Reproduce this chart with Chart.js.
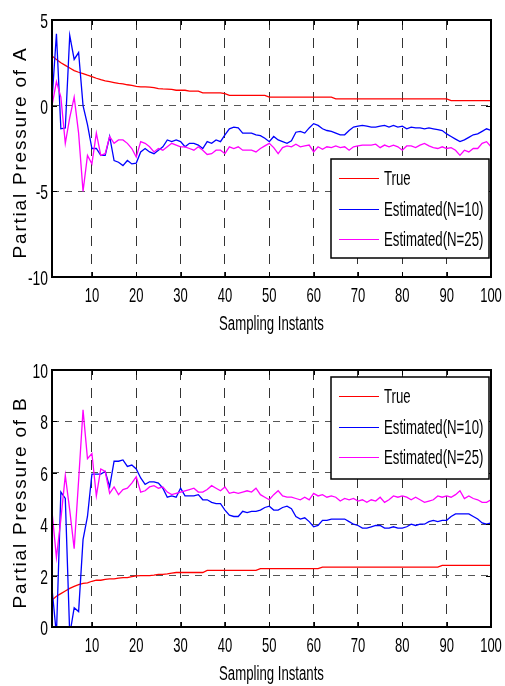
<!DOCTYPE html>
<html><head><meta charset="utf-8">
<script src="https://cdn.jsdelivr.net/npm/chart.js@4.4.0/dist/chart.umd.min.js"></script>
<style>
html,body{margin:0;padding:0;background:#fff;}
#wrap{position:relative;width:505px;height:686px;overflow:hidden;background:#fff;}
canvas{position:absolute;left:0;}
</style></head><body>
<div id="wrap">
<canvas id="cA" width="505" height="343" style="top:0"></canvas>
<canvas id="cB" width="505" height="343" style="top:343px"></canvas>
</div>
<script>
// ---------- data ----------
const samples = [1,2,3,4,5,6,7,8,9,10,11,12,13,14,15,16,17,18,19,20,21,22,23,24,25,26,27,28,29,30,31,32,33,34,35,36,37,38,39,40,41,42,43,44,45,46,47,48,49,50,51,52,53,54,55,56,57,58,59,60,61,62,63,64,65,66,67,68,69,70,71,72,73,74,75,76,77,78,79,80,81,82,83,84,85,86,87,88,89,90,91,92,93,94,95,96,97,98,99,100];
const xTicks = [10,20,30,40,50,60,70,80,90,100];
const yTicksA = [-10,-5,0,5];
const yTicksB = [0,2,4,6,8,10];
const seriesNames = ['True','Estimated(N=10)','Estimated(N=25)'];
const xTitle = 'Sampling Instants';
const yTitleA = 'Partial Pressure of A';
const yTitleB = 'Partial Pressure of B';

const trueA = [2.9,2.7,2.5,2.35,2.2,2.05,1.95,1.87,1.78,1.7,1.6,1.52,1.45,1.4,1.35,1.3,1.27,1.22,1.18,1.12,1.1,1.1,1.08,1.05,1.0,0.98,0.97,0.95,0.9,0.9,0.9,0.85,0.85,0.85,0.75,0.75,0.75,0.75,0.75,0.7,0.6,0.6,0.6,0.6,0.6,0.6,0.6,0.6,0.6,0.5,0.5,0.5,0.5,0.5,0.5,0.5,0.5,0.5,0.5,0.5,0.5,0.5,0.5,0.5,0.4,0.4,0.4,0.4,0.4,0.4,0.4,0.4,0.4,0.4,0.4,0.4,0.4,0.4,0.4,0.4,0.4,0.4,0.4,0.4,0.4,0.4,0.4,0.4,0.4,0.4,0.3,0.3,0.3,0.3,0.3,0.3,0.3,0.3,0.3,0.3];
const estA10 = [0.3,4.2,-1.35,-1.3,4.1,2.7,3.1,0.0,-1.1,-2.5,-2.5,-2.9,-2.9,-1.8,-3.2,-3.3,-3.5,-3.2,-3.4,-3.35,-2.7,-2.5,-2.7,-2.8,-2.6,-2.4,-2.0,-2.1,-2.0,-2.1,-2.4,-2.2,-2.2,-2.3,-2.5,-2.1,-2.2,-2.0,-2.1,-1.7,-1.35,-1.25,-1.3,-1.6,-1.6,-1.6,-1.7,-1.75,-1.9,-2.1,-1.8,-2.0,-2.1,-2.2,-2.05,-1.55,-1.5,-1.6,-1.3,-1.05,-1.15,-1.35,-1.45,-1.5,-1.6,-1.7,-1.7,-1.45,-1.25,-1.2,-1.15,-1.2,-1.25,-1.25,-1.2,-1.15,-1.25,-1.15,-1.25,-1.2,-1.35,-1.25,-1.3,-1.3,-1.35,-1.3,-1.35,-1.4,-1.45,-1.65,-1.8,-1.95,-2.1,-2.0,-1.85,-1.7,-1.65,-1.5,-1.35,-1.45];
const estA25 = [0.0,1.4,0.5,-2.2,-0.7,0.5,-1.6,-5.0,-2.9,-3.4,-1.6,-2.9,-2.8,-1.8,-2.2,-2.0,-2.0,-2.2,-2.5,-3.0,-2.1,-2.2,-2.4,-2.7,-2.5,-2.6,-2.4,-2.2,-2.3,-2.4,-2.4,-2.5,-2.6,-2.4,-2.6,-2.85,-2.8,-2.6,-2.6,-2.8,-2.4,-2.5,-2.4,-2.6,-2.6,-2.6,-2.7,-2.5,-2.35,-2.2,-2.45,-2.8,-2.45,-2.35,-2.4,-2.25,-2.4,-2.35,-2.3,-2.7,-2.4,-2.55,-2.4,-2.45,-2.35,-2.45,-2.4,-2.6,-2.4,-2.35,-2.3,-2.3,-2.3,-2.25,-2.45,-2.3,-2.4,-2.3,-2.4,-2.6,-2.35,-2.35,-2.45,-2.3,-2.2,-2.35,-2.45,-2.5,-2.4,-2.5,-2.45,-2.6,-2.9,-2.6,-2.7,-2.5,-2.5,-2.2,-2.1,-2.4];

const trueB = [1.05,1.2,1.3,1.4,1.5,1.58,1.65,1.7,1.72,1.78,1.82,1.82,1.85,1.87,1.87,1.9,1.92,1.92,1.96,1.99,2.0,2.0,2.0,2.02,2.05,2.05,2.07,2.1,2.12,2.12,2.12,2.12,2.12,2.12,2.12,2.2,2.2,2.2,2.2,2.2,2.2,2.2,2.2,2.2,2.2,2.2,2.2,2.27,2.27,2.27,2.27,2.27,2.27,2.27,2.27,2.27,2.27,2.27,2.27,2.27,2.27,2.33,2.33,2.33,2.33,2.33,2.33,2.33,2.33,2.33,2.33,2.33,2.33,2.33,2.33,2.33,2.33,2.33,2.33,2.33,2.33,2.33,2.33,2.33,2.33,2.33,2.33,2.33,2.4,2.4,2.4,2.4,2.4,2.4,2.4,2.4,2.4,2.4,2.4,2.4];
const estB10 = [1.5,-0.3,5.25,5.0,-0.3,0.75,0.6,3.4,4.3,5.95,5.95,5.95,6.05,5.45,6.45,6.45,6.5,6.25,6.3,6.15,5.8,5.55,5.65,5.65,5.6,5.4,5.05,5.1,5.05,5.4,5.1,5.1,5.1,5.15,4.95,4.95,4.85,4.8,4.8,4.55,4.35,4.3,4.3,4.5,4.45,4.5,4.5,4.55,4.65,4.7,4.55,4.55,4.65,4.7,4.6,4.3,4.2,4.25,4.1,3.9,3.95,4.15,4.15,4.2,4.2,4.2,4.2,4.1,4.0,3.95,3.85,3.85,3.9,3.95,3.95,3.85,3.85,3.9,3.85,3.85,3.9,4.0,3.95,4.0,4.0,4.1,4.15,4.1,4.15,4.15,4.3,4.4,4.4,4.4,4.4,4.3,4.2,4.05,4.0,4.05];
const estB25 = [4.5,2.7,4.2,5.9,4.55,3.05,5.7,8.45,6.55,6.75,5.1,6.15,6.05,5.2,5.45,5.15,5.35,5.4,5.6,5.85,5.25,5.3,5.45,5.5,5.4,5.45,5.25,5.15,5.2,5.25,5.3,5.35,5.4,5.25,5.25,5.35,5.5,5.4,5.3,5.45,5.2,5.25,5.2,5.25,5.3,5.25,5.4,5.15,5.05,4.95,5.15,5.3,5.1,5.05,5.05,5.0,4.95,5.05,4.95,5.2,5.1,5.15,5.05,5.1,5.05,4.9,5.0,4.95,5.0,4.9,4.95,4.85,4.95,4.9,5.05,4.85,4.95,5.1,5.05,5.1,5.05,4.95,5.05,4.95,4.85,4.9,4.95,5.1,5.05,5.1,5.05,5.15,5.3,5.0,5.1,5.0,4.95,4.85,4.85,4.95];

const seriesColors = ['#ff0000','#0000ff','#ff00ff'];

// ---------- helpers ----------
const FONT = '"Liberation Sans", Arial, Helvetica, sans-serif';

function pts(vals){ return samples.map((s,i)=>({x:s, y:vals[i]})); }

function squeezed(ctx, txt, x, y, sx, align, size){
  ctx.save();
  ctx.translate(x, y);
  ctx.scale(sx, 1);
  ctx.font = size + 'px ' + FONT;
  ctx.textAlign = align;
  ctx.textBaseline = 'alphabetic';
  ctx.fillText(txt, 0, 0);
  ctx.restore();
}

function matlabPlugin(cfg){
  return {
    id: 'matlabDecor',
    afterDatasetsDraw(chart){
      const ctx = chart.ctx, a = chart.chartArea, xs = chart.scales.x, ys = chart.scales.y;
      ctx.save();
      // inward tick marks
      ctx.strokeStyle = '#000'; ctx.lineWidth = 1; ctx.setLineDash([]);
      ctx.beginPath();
      xs.ticks.forEach(t => {
        const px = Math.round(xs.getPixelForValue(t.value)) + 0.5;
        ctx.moveTo(px, a.bottom); ctx.lineTo(px, a.bottom - 5);
        ctx.moveTo(px, a.top); ctx.lineTo(px, a.top + 5);
      });
      ys.ticks.forEach(t => {
        const py = Math.round(ys.getPixelForValue(t.value)) + 0.5;
        ctx.moveTo(a.left, py); ctx.lineTo(a.left + 5, py);
        ctx.moveTo(a.right, py); ctx.lineTo(a.right - 5, py);
      });
      ctx.stroke();
      // axes box
      ctx.lineWidth = 2;
      ctx.strokeRect(a.left, a.top, a.right - a.left, a.bottom - a.top);

      ctx.fillStyle = '#000';
      // tick labels
      ys.ticks.forEach(t => squeezed(ctx, String(t.value), a.left - 4, ys.getPixelForValue(t.value) + 8, 0.66, 'right', 21));
      xs.ticks.forEach(t => squeezed(ctx, String(t.value), xs.getPixelForValue(t.value), a.bottom + 25, 0.62, 'center', 21));
      // x title
      squeezed(ctx, xTitle, (a.left + a.right) / 2, a.bottom + 53, 0.66, 'center', 20);
      // y title (rotated)
      ctx.save();
      ctx.font = '19px ' + FONT;
      const natural = ctx.measureText(cfg.yTitle).width;
      const n = cfg.yTitle.length;
      const target = 210;
      ctx.letterSpacing = Math.max(0, (target - natural) / (n - 1)).toFixed(2) + 'px';
      ctx.translate(26, (a.top + a.bottom) / 2 + 4);
      ctx.rotate(-Math.PI / 2);
      ctx.scale(1, 0.97);
      ctx.textAlign = 'center';
      ctx.textBaseline = 'alphabetic';
      ctx.fillText(cfg.yTitle, 0, 0);
      ctx.restore();

      // legend box
      const L = cfg.legend(a);
      ctx.fillStyle = '#fff';
      ctx.fillRect(L.x, L.y, L.w, L.h);
      ctx.strokeStyle = '#000'; ctx.lineWidth = 1.5;
      ctx.strokeRect(L.x, L.y, L.w, L.h);
      const rows = [19, 50, 80];
      seriesNames.forEach((name, i) => {
        const yy = L.y + rows[i];
        ctx.strokeStyle = seriesColors[i]; ctx.lineWidth = 1.2;
        ctx.beginPath(); ctx.moveTo(L.x + 8, yy + 0.5); ctx.lineTo(L.x + 48, yy + 0.5); ctx.stroke();
        ctx.fillStyle = '#000';
        squeezed(ctx, name, L.x + 53, yy + 7, 0.66, 'left', 20);
      });
      ctx.restore();
    }
  };
}

function makeChart(id, vals, yMin, yMax, yTicks, pad, cfg){
  const ds = vals.map((v, i) => ({
    label: seriesNames[i],
    data: pts(v),
    borderColor: seriesColors[i],
    backgroundColor: seriesColors[i],
    borderWidth: 1.3,
    pointRadius: 0,
    tension: 0,
    fill: false,
    order: 2 - i
  }));
  return new Chart(document.getElementById(id), {
    type: 'line',
    data: { datasets: ds },
    options: {
      responsive: false,
      animation: false,
      devicePixelRatio: 1,
      layout: { padding: pad },
      plugins: { legend: { display: false }, tooltip: { enabled: false } },
      scales: {
        x: {
          type: 'linear', min: 1, max: 100,
          afterBuildTicks: s => { s.ticks = xTicks.map(v => ({ value: v })); },
          ticks: { display: false },
          grid: { color: '#333', lineWidth: 1, drawTicks: false },
          border: { display: false, dash: [10, 8] }
        },
        y: {
          type: 'linear', min: yMin, max: yMax,
          afterBuildTicks: s => { s.ticks = yTicks.map(v => ({ value: v })); },
          ticks: { display: false },
          grid: { color: '#555', lineWidth: 1, drawTicks: false },
          border: { display: false, dash: [7, 6] }
        }
      }
    },
    plugins: [matlabPlugin(cfg)]
  });
}

makeChart('cA', [trueA, estA10, estA25], -10, 5, yTicksA,
  { left: 52, right: 14, top: 20, bottom: 66 },
  { yTitle: yTitleA, legend: a => ({ x: a.right - 160, y: a.bottom - 118, w: 158, h: 99 }) });

makeChart('cB', [trueB, estB10, estB25], 0, 10, yTicksB,
  { left: 52, right: 14, top: 27, bottom: 59 },
  { yTitle: yTitleB, legend: a => ({ x: a.right - 160, y: a.top + 7, w: 158, h: 102 }) });
</script>
</body></html>
